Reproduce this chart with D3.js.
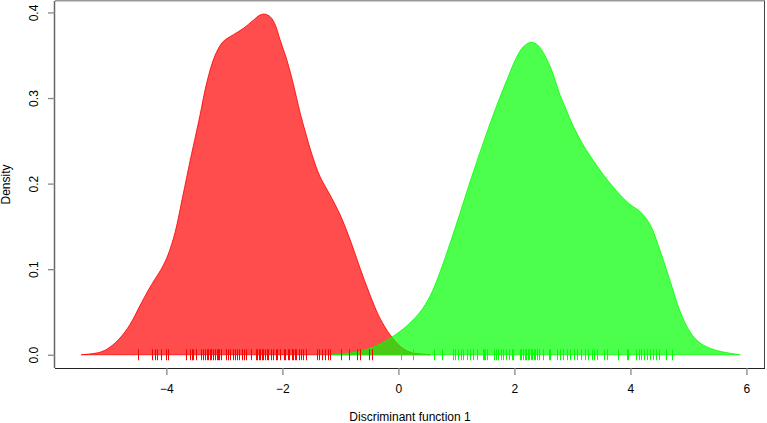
<!DOCTYPE html>
<html>
<head>
<meta charset="utf-8">
<script src="https://cdn.jsdelivr.net/npm/d3@7"></script>
<style>
  html, body { margin: 0; padding: 0; background: #fff; }
  svg { display: block; }
  text { font-family: "Liberation Sans", Arial, Helvetica, sans-serif; font-size: 12px; fill: #000; }
</style>
</head>
<body>
<svg id="chart" width="767" height="423"></svg>
<script>
// ---- data ----
const xTicks = [-4, -2, 0, 2, 4, 6];
const yTicks = [0.0, 0.1, 0.2, 0.3, 0.4];
const yTickLabels = ["0.0", "0.1", "0.2", "0.3", "0.4"];
const xLabel = "Discriminant function 1";
const yLabel = "Density";

const redX = [-5.47, -5.14, -4.97, -4.80, -4.63, -4.45, -4.31, -4.20, -4.08, -3.97, -3.85, -3.715, -3.59, -3.49, -3.42, -3.30, -3.16, -3.02, -2.845, -2.67, -2.50, -2.385, -2.30, -2.21, -2.125, -2.04, -1.92, -1.81, -1.695, -1.59, -1.49, -1.35, -1.18, -1.00, -0.83, -0.66, -0.49, -0.32, -0.14, 0.03, 0.20, 0.37, 0.55];
const redY = [0.000, 0.003, 0.009, 0.0195, 0.035, 0.058, 0.0756, 0.088, 0.101, 0.117, 0.143, 0.186, 0.227, 0.258, 0.280, 0.319, 0.350, 0.366, 0.374, 0.3815, 0.391, 0.397, 0.398, 0.395, 0.386, 0.368, 0.344, 0.316, 0.283, 0.257, 0.234, 0.208, 0.187, 0.163, 0.134, 0.101, 0.070, 0.043, 0.023, 0.010, 0.003, 0.001, 0.000];

const greenX = [-1.14, -0.83, -0.575, -0.315, -0.057, 0.167, 0.374, 0.546, 0.72, 0.89, 1.06, 1.24, 1.46, 1.58, 1.70, 1.87, 2.04, 2.15, 2.27, 2.355, 2.44, 2.615, 2.79, 2.87, 2.95, 3.045, 3.17, 3.30, 3.56, 3.82, 3.99, 4.17, 4.34, 4.51, 4.69, 4.86, 5.03, 5.20, 5.46, 5.89];
const greenY = [0.000, 0.002, 0.0055, 0.0126, 0.023, 0.035, 0.0499, 0.0685, 0.097, 0.130, 0.165, 0.203, 0.247, 0.270, 0.292, 0.321, 0.348, 0.3597, 0.365, 0.364, 0.359, 0.337, 0.303, 0.290, 0.277, 0.263, 0.247, 0.233, 0.208, 0.187, 0.176, 0.167, 0.152, 0.122, 0.085, 0.050, 0.0265, 0.0138, 0.0055, 0.000];

const redRug = [-4.49, -4.24, -4.19, -4.155, -4.10, -4.01, -3.98, -3.67, -3.59, -3.565, -3.54, -3.49, -3.40, -3.37, -3.33, -3.30, -3.28, -3.25, -3.23, -3.20, -3.16, -3.13, -3.11, -3.09, -3.06, -2.97, -2.93, -2.90, -2.855, -2.815, -2.79, -2.75, -2.70, -2.655, -2.63, -2.54, -2.46, -2.44, -2.41, -2.38, -2.355, -2.33, -2.30, -2.27, -2.25, -2.195, -2.155, -2.11, -2.085, -2.04, -1.98, -1.95, -1.91, -1.885, -1.84, -1.815, -1.79, -1.765, -1.72, -1.68, -1.64, -1.60, -1.41, -1.37, -1.31, -1.265, -1.22, -1.18, -0.99, -0.85, -0.72, -0.66, -0.505, -0.46];
const greenRug = [0.04, 0.26, 0.62, 0.76, 0.94, 0.98, 1.02, 1.08, 1.12, 1.19, 1.24, 1.29, 1.35, 1.455, 1.48, 1.50, 1.535, 1.64, 1.68, 1.72, 1.765, 1.81, 1.86, 1.90, 1.955, 1.98, 2.10, 2.12, 2.15, 2.18, 2.20, 2.23, 2.25, 2.28, 2.305, 2.33, 2.36, 2.385, 2.43, 2.50, 2.59, 2.615, 2.74, 2.79, 2.835, 2.90, 2.96, 3.02, 3.08, 3.15, 3.22, 3.26, 3.345, 3.37, 3.42, 3.55, 3.59, 3.79, 3.94, 3.965, 4.10, 4.14, 4.18, 4.24, 4.28, 4.33, 4.39, 4.44, 4.50, 4.615, 4.71];

// ---- layout ----
const plot = { left: 55, right: 765, top: 1, bottom: 368 };
const svg = d3.select("#chart");

const x = d3.scaleLinear().domain([-5.92, 6.32]).range([plot.left, plot.right]);
const y = d3.scaleLinear().domain([-0.0155, 0.4134]).range([plot.bottom, plot.top]);

function drawDensity(xs, ys, fill, stroke) {
  const pts = xs.map((v, i) => [v, ys[i]]);
  const area = d3.area()
    .x(d => x(d[0]))
    .y0(y(0))
    .y1(d => y(d[1]))
    .curve(d3.curveCatmullRom.alpha(0.5));
  svg.append("path")
    .datum(pts)
    .attr("d", area)
    .attr("fill", fill)
    .attr("stroke", stroke)
    .attr("stroke-width", 1);
}

drawDensity(redX, redY, "rgba(255,0,0,0.7)", "rgba(255,0,0,0.8)");
drawDensity(greenX, greenY, "rgba(0,255,0,0.7)", "rgba(0,255,0,0.8)");

function drawRug(vals, color) {
  svg.append("g").selectAll("line")
    .data(vals).enter().append("line")
    .attr("x1", d => Math.round(x(d)) + 0.5)
    .attr("x2", d => Math.round(x(d)) + 0.5)
    .attr("y1", y(0) - 5.5)
    .attr("y2", y(0) + 5.5)
    .attr("stroke", color)
    .attr("stroke-width", 1);
}
drawRug(redRug, "#ff0000");
drawRug(greenRug, "#00ff00");

// ---- box ----
svg.append("line").attr("x1", plot.left).attr("x2", plot.right).attr("y1", plot.top - 0.5).attr("y2", plot.top - 0.5).attr("stroke", "#999").attr("stroke-width", 2);
svg.append("line").attr("x1", plot.left - 0.5).attr("x2", plot.left - 0.5).attr("y1", plot.top).attr("y2", plot.bottom).attr("stroke", "#666").attr("stroke-width", 1.5);
svg.append("line").attr("x1", plot.right - 0.5).attr("x2", plot.right - 0.5).attr("y1", plot.top).attr("y2", plot.bottom).attr("stroke", "#444").attr("stroke-width", 1);
svg.append("line").attr("x1", plot.left).attr("x2", plot.right).attr("y1", plot.bottom + 0.5).attr("y2", plot.bottom + 0.5).attr("stroke", "#222").attr("stroke-width", 1);

// ---- axes ----
const xAxis = d3.axisBottom(x).tickValues(xTicks).tickSize(7).tickSizeOuter(0);
const gx = svg.append("g").attr("transform", `translate(0,${plot.bottom})`).call(xAxis);
gx.select(".domain").remove();
gx.selectAll(".tick line").attr("stroke", "#888").attr("stroke-width", 1.3);
gx.selectAll(".tick text").attr("font-size", 12).attr("font-family", null).attr("dy", "0.71em").attr("y", 16);

const yAxis = d3.axisLeft(y).tickValues(yTicks).tickSize(7).tickSizeOuter(0)
  .tickFormat((d, i) => yTickLabels[i]);
const gy = svg.append("g").attr("transform", `translate(${plot.left},0)`).call(yAxis);
gy.select(".domain").remove();
gy.selectAll(".tick line").attr("stroke", "#888").attr("stroke-width", 1.3);
gy.selectAll(".tick text")
  .attr("font-size", 12).attr("font-family", null)
  .attr("x", null).attr("dy", null)
  .attr("text-anchor", "middle")
  .attr("transform", "translate(-16.7,0) rotate(-90)");

// ---- axis titles ----
svg.append("text")
  .attr("x", (plot.left + plot.right) / 2)
  .attr("y", 421)
  .attr("text-anchor", "middle")
  .text(xLabel);
svg.append("text")
  .attr("transform", `translate(9.5,${(plot.top + plot.bottom) / 2}) rotate(-90)`)
  .attr("text-anchor", "middle")
  .text(yLabel);
</script>
</body>
</html>
